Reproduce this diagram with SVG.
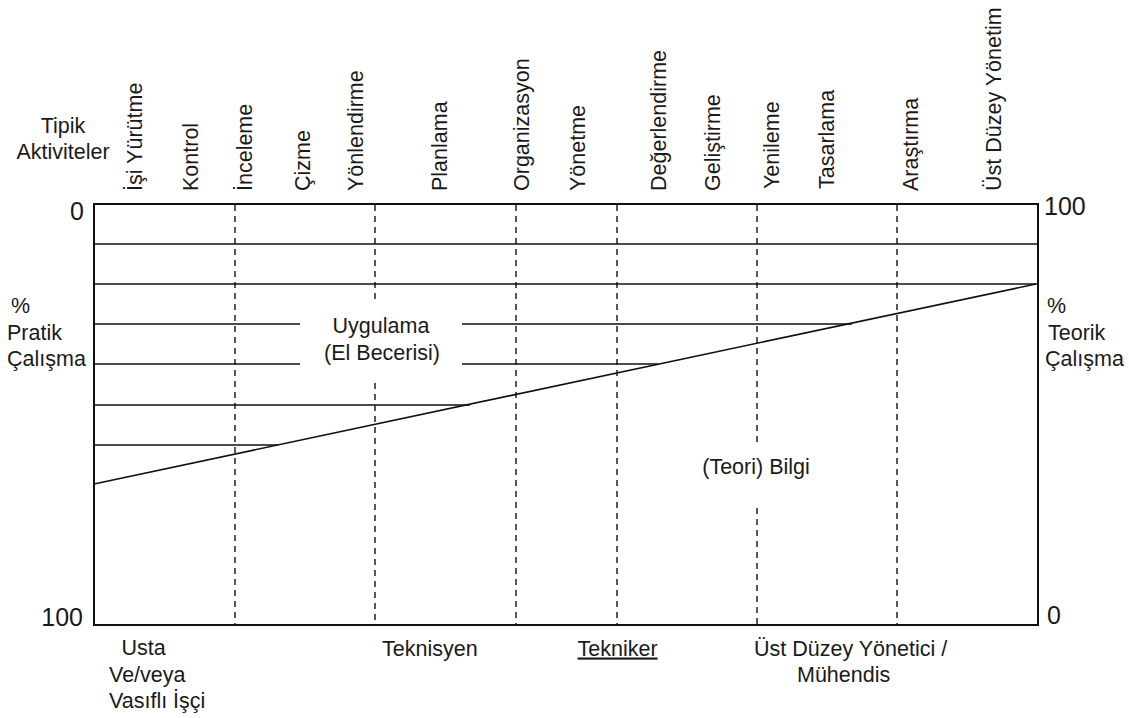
<svg xmlns="http://www.w3.org/2000/svg" width="1129" height="718" viewBox="0 0 1129 718">
<style>
text{font-family:"Liberation Sans",Arial,sans-serif;font-size:21.5px;fill:#1a1a1a}
.num{font-size:25px}
.ln{stroke:#111;stroke-width:1.6;fill:none}
.fr{stroke:#111;stroke-width:2;fill:none}
.ds{stroke:#111;stroke-width:1.4;stroke-dasharray:6 5;fill:none}
.mid{text-anchor:middle}
.end{text-anchor:end}
</style>
<rect width="1129" height="718" fill="#fff"/>
<g id="frame">
<rect class="fr" x="94" y="204" width="944" height="421"/>
</g>
<g id="grid-lines">
<line class="ln" x1="94" y1="244" x2="1038" y2="244"/>
<line class="ln" x1="94" y1="284" x2="1038" y2="284"/>
<line class="ln" x1="94" y1="324" x2="300" y2="324"/>
<line class="ln" x1="462" y1="324" x2="852" y2="324"/>
<line class="ln" x1="94" y1="364" x2="300" y2="364"/>
<line class="ln" x1="462" y1="364" x2="658" y2="364"/>
<line class="ln" x1="94" y1="405" x2="470" y2="405"/>
<line class="ln" x1="94" y1="445" x2="278" y2="445"/>
<line id="diagonal" class="ln" x1="94" y1="484" x2="1036" y2="284"/>
</g>
<g id="dashed-lines">
<line class="ds" x1="235" y1="205" x2="235" y2="624"/>
<line class="ds" x1="375" y1="205" x2="375" y2="303"/>
<line class="ds" x1="375" y1="383" x2="375" y2="624"/>
<line class="ds" x1="516" y1="205" x2="516" y2="624"/>
<line class="ds" x1="617" y1="205" x2="617" y2="624"/>
<line class="ds" x1="757" y1="205" x2="757" y2="443"/>
<line class="ds" x1="757" y1="508" x2="757" y2="624"/>
<line class="ds" x1="897" y1="205" x2="897" y2="624"/>
</g>
<g id="activities">
<text class="mid" x="63" y="133">Tipik</text>
<text class="mid" x="63" y="159">Aktiviteler</text>
<text transform="translate(141.5,191) rotate(-90)">İşi Yürütme</text>
<text transform="translate(198,191) rotate(-90)">Kontrol</text>
<text transform="translate(252,191) rotate(-90)">İnceleme</text>
<text transform="translate(310,191) rotate(-90)">Çizme</text>
<text transform="translate(363,191) rotate(-90)">Yönlendirme</text>
<text transform="translate(447,191) rotate(-90)">Planlama</text>
<text transform="translate(528.5,191) rotate(-90)">Organizasyon</text>
<text transform="translate(585,191) rotate(-90)">Yönetme</text>
<text transform="translate(665.5,191) rotate(-90)">Değerlendirme</text>
<text transform="translate(720,191) rotate(-90)">Geliştirme</text>
<text transform="translate(779,189) rotate(-90)">Yenileme</text>
<text transform="translate(834,189) rotate(-90)">Tasarlama</text>
<text transform="translate(918,191) rotate(-90)">Araştırma</text>
<text transform="translate(1001,191) rotate(-90)">Üst Düzey Yönetim</text>
</g>
<g id="axis-labels">
<text class="num end" x="84" y="220">0</text>
<text class="num end" x="83" y="626">100</text>
<text class="num" x="1044" y="215">100</text>
<text class="num" x="1047" y="624">0</text>
<text x="11" y="313">%</text>
<text x="7" y="340">Pratik</text>
<text x="7" y="366">Çalışma</text>
<text x="1047" y="313">%</text>
<text x="1048" y="340">Teorik</text>
<text x="1045" y="366">Çalışma</text>
</g>
<g id="areas">
<text class="mid" x="381" y="333">Uygulama</text>
<text class="mid" x="382" y="360">(El Becerisi)</text>
<text class="mid" x="756" y="474">(Teori) Bilgi</text>
</g>
<g id="roles">
<text x="121.5" y="655">Usta</text>
<text x="109" y="681.5">Ve/veya</text>
<text x="109" y="708">Vasıflı İşçi</text>
<text x="382" y="655.5">Teknisyen</text>
<text x="577.5" y="655.5" text-decoration="underline">Tekniker</text>
<text x="754" y="655.5">Üst Düzey Yönetici /</text>
<text x="797" y="681.5">Mühendis</text>
</g>
</svg>
